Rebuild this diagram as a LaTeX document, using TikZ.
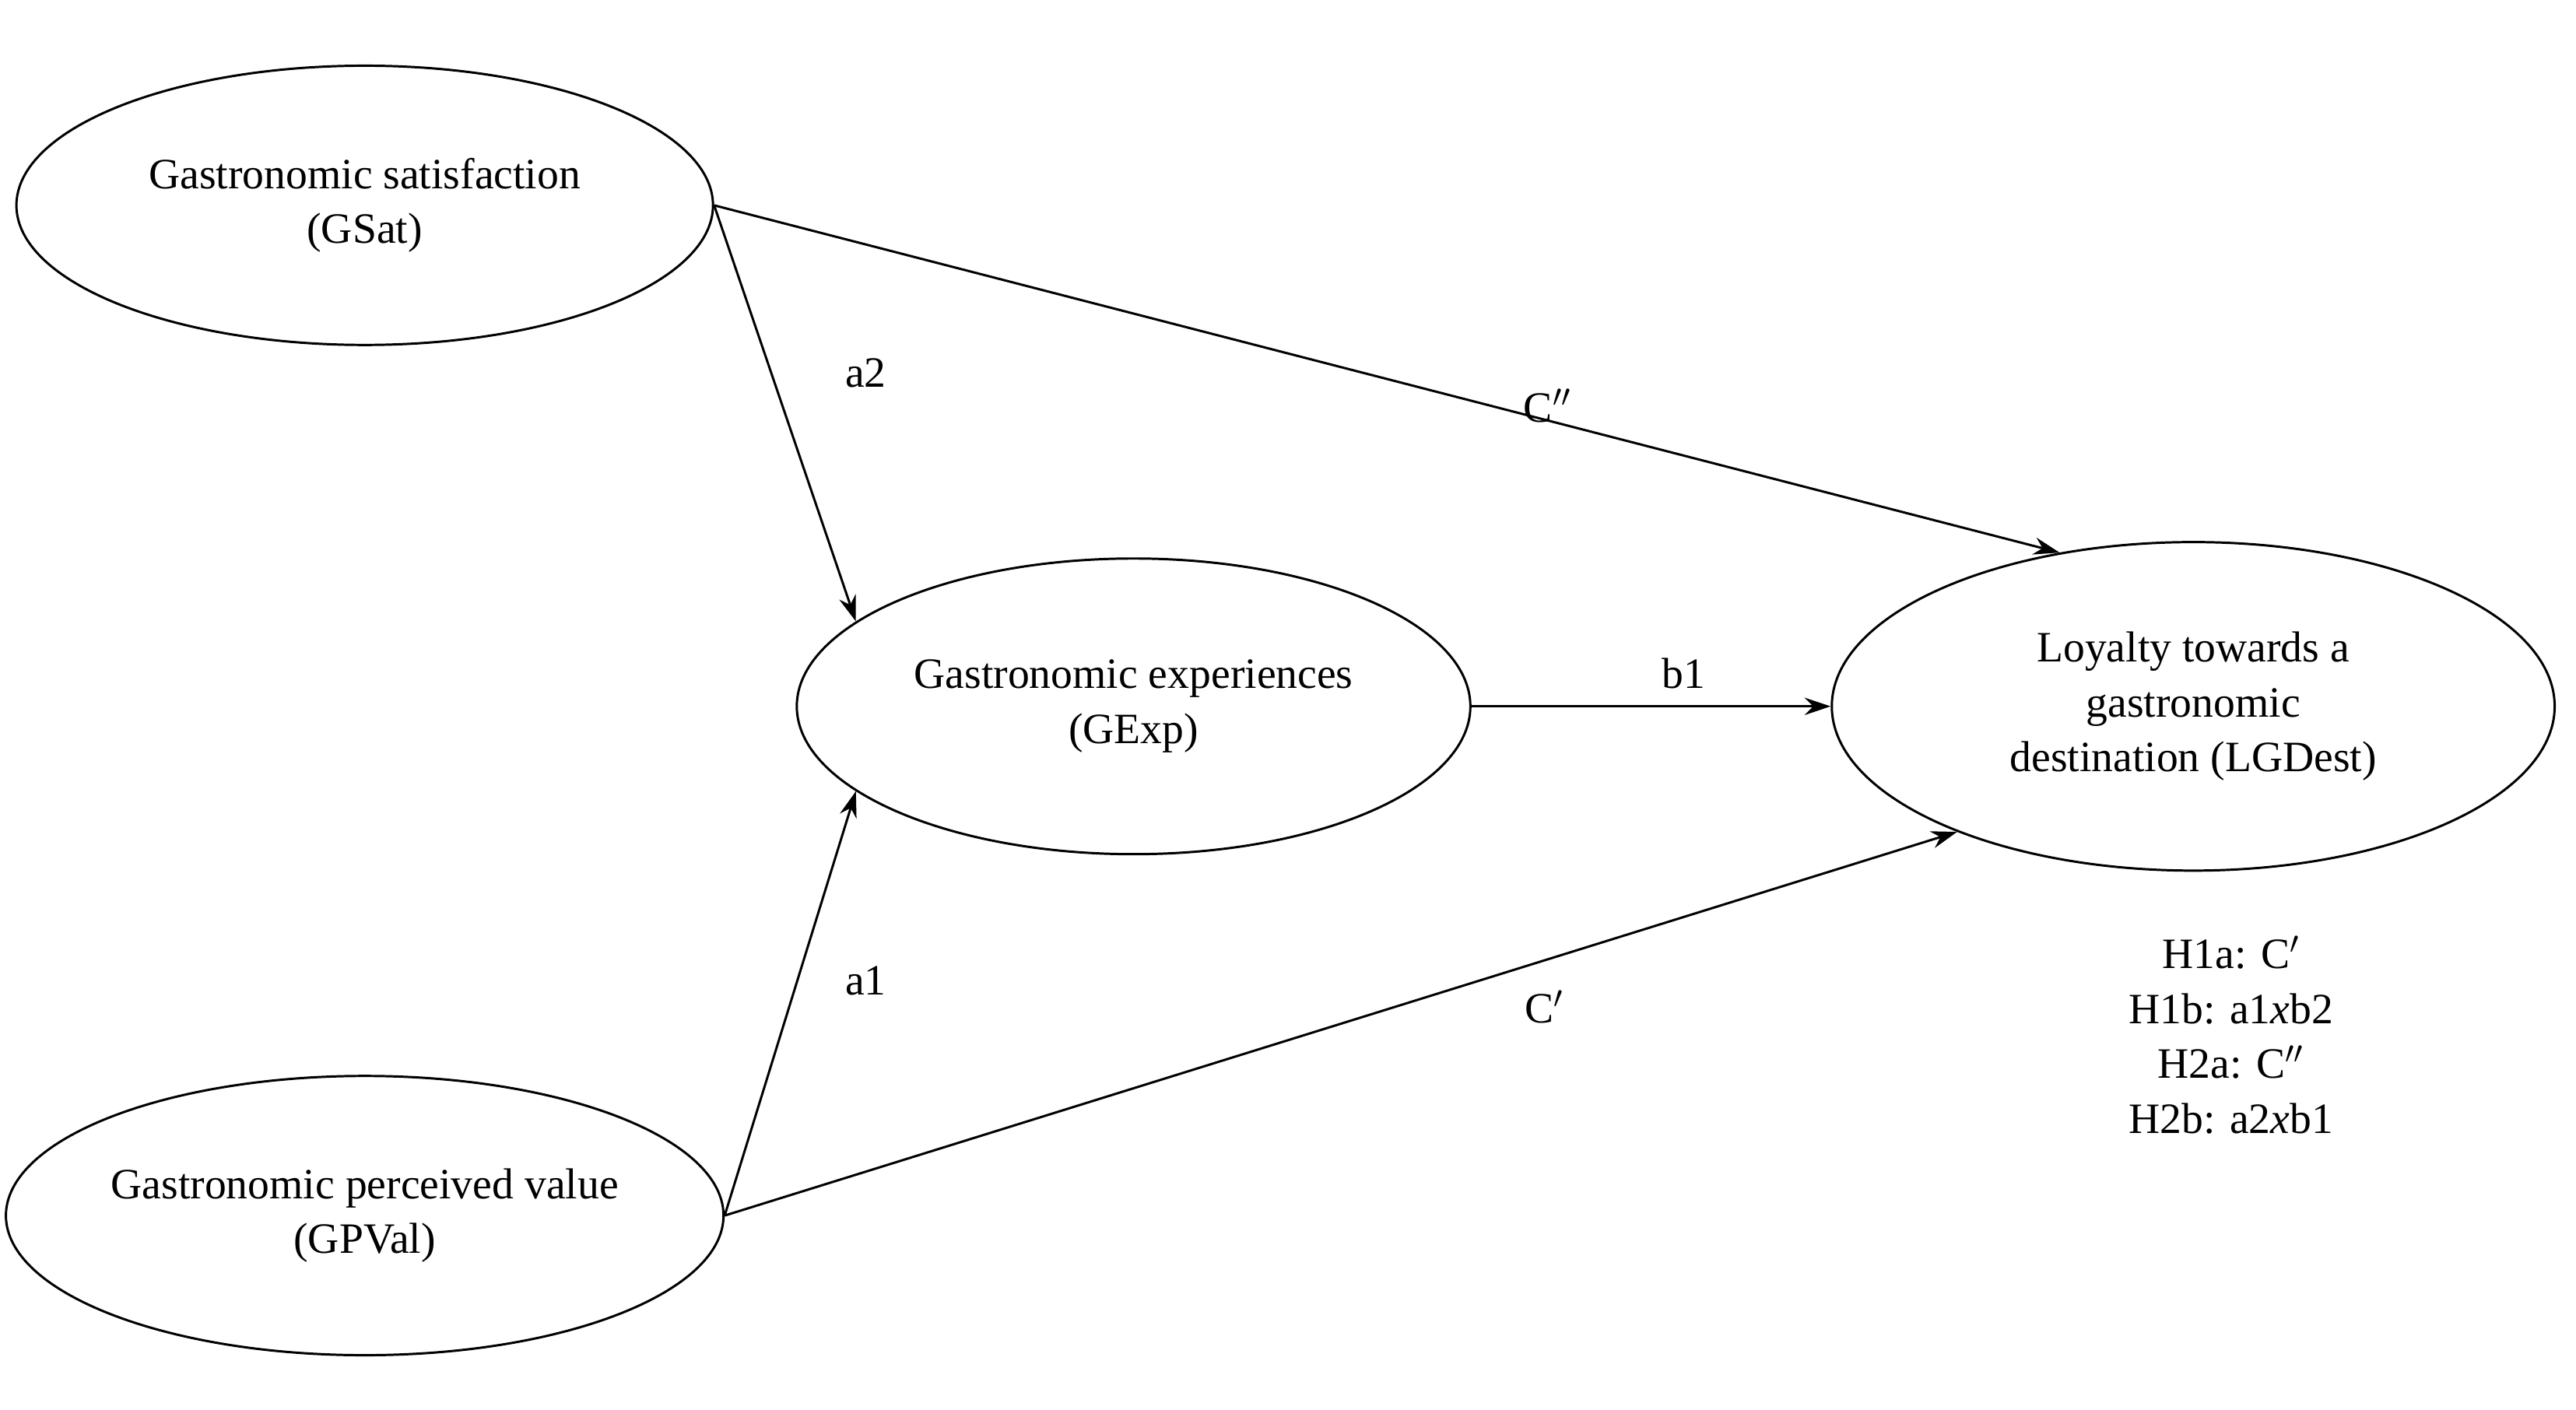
\documentclass[tikz,border=0pt]{standalone}
\usepackage{fontspec}
\setmainfont{Liberation Serif}
\usetikzlibrary{shapes.geometric,arrows.meta}

\begin{document}
\begin{tikzpicture}[
  construct/.style={draw,ellipse,thick,align=center,inner sep=0pt},
  path/.style={thick,-{Stealth[length=9pt,width=6pt]}},
  lbl/.style={draw=none,font=\fontsize{15}{19}\selectfont}
]
\useasboundingbox (0,0) rectangle (31.36,17.16);
\fontsize{15}{19}\selectfont

\node [construct,minimum width=8.48cm,minimum height=3.4cm] (gsat) at (4.44,14.66) {Gastronomic satisfaction\\(GSat)};
\node [construct,minimum width=8.2cm,minimum height=3.6cm] (gexp) at (13.8,8.56) {Gastronomic experiences\\(GExp)};
\node [construct,minimum width=8.48cm,minimum height=3.4cm] (gpval) at (4.44,2.36) {Gastronomic perceived value\\(GPVal)};
\node [construct,minimum width=8.8cm,minimum height=4cm] (lgdest) at (26.7,8.56) {Loyalty towards a\\gastronomic\\destination (LGDest)};

\draw[path] (gsat.east) -- (gexp.163); % a2
\draw[path] (gpval.east) -- (gexp.197); % a1
\draw[path] (gsat.east) -- (lgdest.131); % C''
\draw[path] (gpval.east) -- (lgdest.208); % C'
\draw[path] (gexp.east) -- (lgdest.west); % b1

\node [lbl] (la2) at (10.54,12.62) {a2};
\node [lbl] (lcc) at (18.84,12.22) {C$''$};
\node [lbl] (lb1) at (20.5,8.96) {b1};
\node [lbl] (la1) at (10.54,5.22) {a1};
\node [lbl] (lc) at (18.8,4.9) {C$'$};

\node [lbl,align=center] (hyp) at (27.16,4.56) {H1a: C$'$\\H1b: a1\textit{x}b2\\H2a: C$''$\\H2b: a2\textit{x}b1};
\end{tikzpicture}
\end{document}
